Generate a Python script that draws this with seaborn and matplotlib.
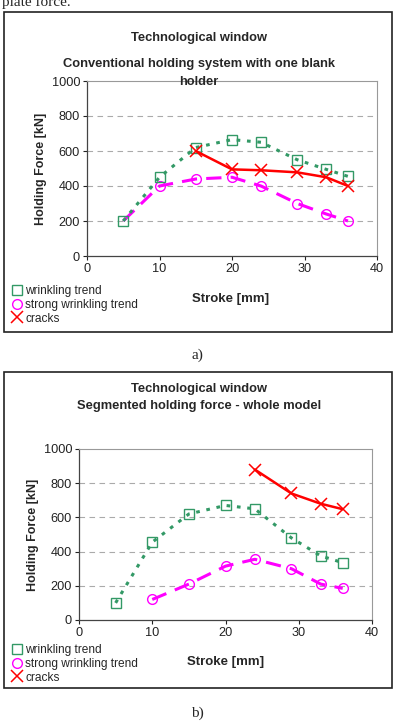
import numpy as np
import pandas as pd
import matplotlib
matplotlib.use("Agg")
import matplotlib.pyplot as plt
from matplotlib.lines import Line2D
from matplotlib.patches import Rectangle
import seaborn as sns

# panel a) conventional holding system
a_wr_x = [5, 10, 15, 20, 24, 29, 33, 36]
a_wr_y = [200, 450, 620, 665, 650, 550, 495, 455]
a_sw_x = [5, 10, 15, 20, 24, 29, 33, 36]
a_sw_y = [200, 400, 440, 450, 400, 300, 240, 200]
a_cr_x = [15, 20, 24, 29, 33, 36]
a_cr_y = [600, 495, 490, 478, 450, 400]

# panel b) segmented holding force
b_wr_x = [5, 10, 15, 20, 24, 29, 33, 36]
b_wr_y = [100, 455, 620, 670, 650, 480, 375, 335]
b_sw_x = [10, 15, 20, 24, 29, 33, 36]
b_sw_y = [120, 210, 315, 355, 300, 210, 185]
b_cr_x = [24, 29, 33, 36]
b_cr_y = [880, 740, 680, 648]

labels = ["wrinkling trend", "strong wrinkling trend", "cracks"]
x_ticks = [0, 10, 20, 30, 40]
y_ticks = [0, 200, 400, 600, 800, 1000]

GREEN = "#339966"
MAGENTA = "#FF00FF"
RED = "#FF0000"

sns.set_style("white")
plt.rcParams["font.family"] = ["Liberation Sans", "DejaVu Sans"]

W, H = 395, 723
fig = plt.figure(figsize=(W / 100, H / 100), dpi=100)


def fx(px):
    return px / W


def fy(py):
    return 1 - py / H


def draw_panel(ax, wr, sw, cr, sw_skip_first):
    ax.set_xlim(0, 40)
    ax.set_ylim(0, 1000)
    for y in [200, 400, 600, 800]:
        ax.axhline(y, color="#aaaaaa", lw=0.8, ls=(0, (5, 4)), zorder=0)
    # wrinkling trend
    sns.lineplot(x=wr[0], y=wr[1], ax=ax, color=GREEN, lw=2.2,
                 linestyle=(0, (1.2, 2.2)), marker="s", markersize=7,
                 markerfacecolor="none", markeredgecolor=GREEN,
                 markeredgewidth=1.0, zorder=3)
    # strong wrinkling trend
    mk = list(range(1, len(sw[0]))) if sw_skip_first else None
    sns.lineplot(x=sw[0], y=sw[1], ax=ax, color=MAGENTA, lw=2.2,
                 linestyle=(0, (5, 3)), marker="o", markersize=7,
                 markerfacecolor="none", markeredgecolor=MAGENTA,
                 markeredgewidth=1.0, markevery=mk, zorder=2)
    # cracks
    sns.lineplot(x=cr[0], y=cr[1], ax=ax, color=RED, lw=1.8,
                 marker="x", markersize=8, markeredgecolor=RED,
                 markeredgewidth=1.1, zorder=4)
    ax.set_xticks(x_ticks)
    ax.set_yticks(y_ticks)
    ax.tick_params(axis="both", labelsize=9.2, length=3, width=0.8,
                   direction="out", colors="#222222", pad=2)
    ax.tick_params(left=True, bottom=True)
    for s in ["left", "bottom"]:
        ax.spines[s].set_color("#444444")
        ax.spines[s].set_linewidth(0.9)
    for s in ["top", "right"]:
        ax.spines[s].set_color("#999999")
        ax.spines[s].set_linewidth(0.8)
    ax.set_xlabel("")
    ax.set_ylabel("Holding Force [kN]", fontsize=9, fontweight="bold",
                  labelpad=3)
    ax.grid(False)


# panel boxes
fig.patches.append(Rectangle((fx(4), fy(332)), fx(388), 320 / H,
                             transform=fig.transFigure, fill=False,
                             edgecolor="#222222", lw=1.2))
fig.patches.append(Rectangle((fx(4), fy(688)), fx(388), 316 / H,
                             transform=fig.transFigure, fill=False,
                             edgecolor="#222222", lw=1.2))

ax_a = fig.add_axes([fx(87), fy(256), fx(290), 175 / H])
draw_panel(ax_a, (a_wr_x, a_wr_y), (a_sw_x, a_sw_y), (a_cr_x, a_cr_y), True)
ax_b = fig.add_axes([fx(79), fy(620), fx(293), 171 / H])
draw_panel(ax_b, (b_wr_x, b_wr_y), (b_sw_x, b_sw_y), (b_cr_x, b_cr_y), False)

# titles
for txt, y in [("Technological window", 38),
               ("Conventional holding system with one blank", 64),
               ("holder", 82)]:
    fig.text(fx(199), fy(y), txt, ha="center", va="center",
             fontsize=9.3, fontweight="bold")
for txt, y in [("Technological window", 389),
               ("Segmented holding force - whole model", 406)]:
    fig.text(fx(199), fy(y), txt, ha="center", va="center",
             fontsize=9.3, fontweight="bold")

# x labels
fig.text(fx(231), fy(299), "Stroke [mm]", ha="center", va="center",
         fontsize=9.5, fontweight="bold")
fig.text(fx(226), fy(662), "Stroke [mm]", ha="center", va="center",
         fontsize=9.5, fontweight="bold")

# legends
handles = [
    Line2D([], [], ls="none", marker="s", markersize=7, markerfacecolor="none",
           markeredgecolor=GREEN, markeredgewidth=1.0),
    Line2D([], [], ls="none", marker="o", markersize=7, markerfacecolor="none",
           markeredgecolor=MAGENTA, markeredgewidth=1.0),
    Line2D([], [], ls="none", marker="x", markersize=8,
           markeredgecolor=RED, markeredgewidth=1.1),
]
for top in [285, 644]:
    fig.legend(handles, labels, loc="upper left",
               bbox_to_anchor=(fx(12), fy(top)), frameon=False, fontsize=8.6,
               handlelength=0.8, handletextpad=0.3, labelspacing=0.15,
               borderpad=0.0, borderaxespad=0)

# captions
fig.text(fx(197), fy(355), "a)", ha="center", va="center", fontsize=11,
         family=["Liberation Serif", "DejaVu Serif"])
fig.text(fx(197), fy(713), "b)", ha="center", va="center", fontsize=11,
         family=["Liberation Serif", "DejaVu Serif"])
fig.text(fx(2), fy(2), "plate force.", ha="left", va="center", fontsize=11,
         family=["Liberation Serif", "DejaVu Serif"])

fig.savefig("out.png", dpi=100)
